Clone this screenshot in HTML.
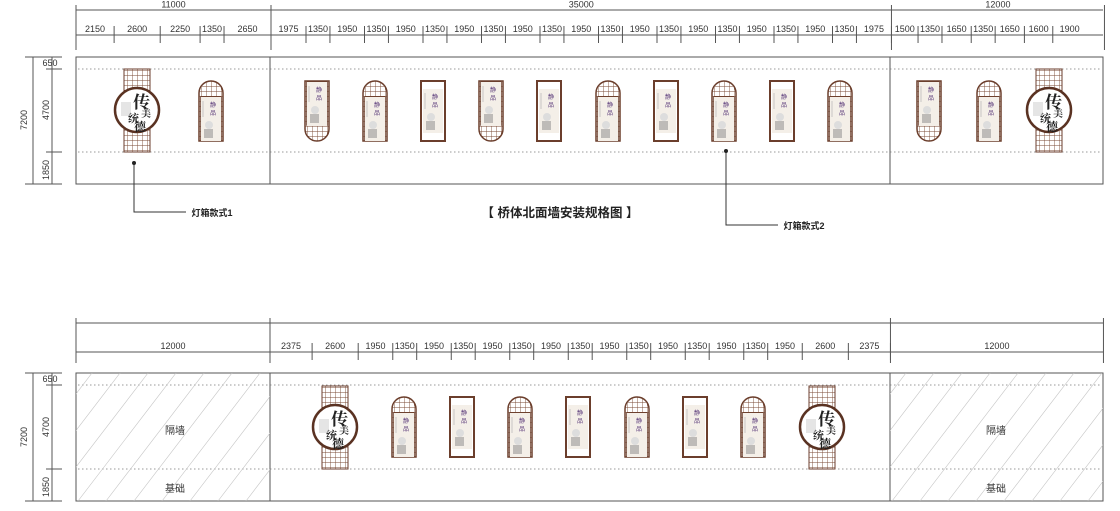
<!DOCTYPE html>
<html><head><meta charset="utf-8"><style>
html,body{margin:0;padding:0;background:#fff;}
svg{display:block;font-family:"Liberation Sans","Noto Sans CJK SC",sans-serif;}
</style></head><body>
<svg id="s" width="1120" height="511" viewBox="0 0 1120 511" xmlns="http://www.w3.org/2000/svg">
<defs>
<clipPath id="cl1"><rect x="76" y="373" width="194" height="128"/></clipPath>
<clipPath id="cl2"><rect x="890" y="373" width="213" height="128"/></clipPath>
<pattern id="lat" width="5" height="5" patternUnits="userSpaceOnUse"><rect width="5" height="5" fill="#fff"/><path d="M0 0H5M0 0V5" stroke="#7a4a35" stroke-width="0.9"/></pattern>
<g id="t1">
 <rect x="-13" y="-41" width="26" height="83" fill="url(#lat)" stroke="#6b3e2c" stroke-width="1"/>
 <circle r="22" fill="#fff" stroke="#5a3222" stroke-width="2.5"/>
 <text x="-4" y="-2" font-size="17" font-family="Noto Serif CJK SC,serif" font-weight="bold" fill="#222">传</text>
 <text x="-9" y="12" font-size="11" font-family="Noto Serif CJK SC,serif" font-weight="bold" fill="#222">统</text>
 <text x="4" y="7" font-size="10" font-family="Noto Serif CJK SC,serif" font-weight="bold" fill="#333">美</text>
 <text x="-3" y="21" font-size="12" font-family="Noto Serif CJK SC,serif" font-weight="bold" fill="#222">德</text>
 <rect x="-16" y="-8" width="10" height="14" fill="#ccc" opacity="0.5"/>
</g>
<g id="pic">
 <rect x="-10" y="-20" width="20" height="44" fill="#f4efe8"/>
 <text x="-1" y="-10" font-size="6" fill="#5a3a7a">静</text>
 <text x="-1" y="-2" font-size="6" fill="#5a3a7a">品</text>
 <circle cx="-2" cy="8" r="4" fill="#ddd"/>
 <rect x="-7" y="12" width="9" height="9" fill="#888" opacity="0.5"/>
 <path d="M-8 -16V0" stroke="#aaa" stroke-width="0.6"/>
</g>
<g id="rt"><rect x="-12" y="-30" width="24" height="60" fill="#fff" stroke="#6b3e2c" stroke-width="2"/><use href="#pic" y="-2"/></g>
<g id="at"><path d="M-12 30V-18A12 12 0 0 1 12 -18V30Z" fill="url(#lat)" stroke="#6b3e2c" stroke-width="1.5"/><rect x="-10" y="-14" width="20" height="43" fill="#fff" stroke="#6b3e2c" stroke-width="1.5"/><use href="#pic" y="6"/></g>
<g id="ab"><path d="M-12 -30V18A12 12 0 0 0 12 18V-30Z" fill="url(#lat)" stroke="#6b3e2c" stroke-width="1.5"/><rect x="-10" y="-29" width="20" height="43" fill="#fff" stroke="#6b3e2c" stroke-width="1.5"/><use href="#pic" y="-9"/></g>
</defs>

<g id="dims" stroke="#555" stroke-width="1" fill="none"></g>
<g id="txt" font-size="9" fill="#333" text-anchor="middle"></g>

<g stroke="#555" fill="none">
<rect x="76" y="57" width="1027" height="127"/>
<line x1="270" y1="57" x2="270" y2="184"/><line x1="890" y1="57" x2="890" y2="184"/>
<rect x="76" y="373" width="1027" height="128"/>
<line x1="270" y1="373" x2="270" y2="501"/><line x1="890" y1="373" x2="890" y2="501"/>
</g>
<g stroke="#777" stroke-dasharray="1.5 2.5" stroke-width="0.8">
<line x1="78" y1="69" x2="1101" y2="69"/><line x1="78" y1="152" x2="1101" y2="152"/>
<line x1="78" y1="385" x2="1101" y2="385"/><line x1="78" y1="469" x2="1101" y2="469"/>
</g>
<g id="hatch" stroke="#c4c4c4" stroke-width="0.6"></g>

<g stroke="#555" fill="none">
<line x1="33" y1="57" x2="33" y2="184"/><line x1="52" y1="57" x2="52" y2="184"/>
<line x1="25" y1="57" x2="62" y2="57"/><line x1="46" y1="69" x2="62" y2="69"/><line x1="46" y1="152" x2="62" y2="152"/><line x1="25" y1="184" x2="62" y2="184"/>
<line x1="33" y1="373" x2="33" y2="501"/><line x1="52" y1="373" x2="52" y2="501"/>
<line x1="25" y1="373" x2="62" y2="373"/><line x1="46" y1="385" x2="62" y2="385"/><line x1="46" y1="469" x2="62" y2="469"/><line x1="25" y1="501" x2="62" y2="501"/>
</g>
<g font-size="9" fill="#333" text-anchor="middle">
<text x="50" y="66">650</text>
<text transform="translate(27,120) rotate(-90)">7200</text>
<text transform="translate(49,110) rotate(-90)">4700</text>
<text transform="translate(49,170) rotate(-90)">1850</text>
<text x="50" y="382">650</text>
<text transform="translate(27,437) rotate(-90)">7200</text>
<text transform="translate(49,427) rotate(-90)">4700</text>
<text transform="translate(49,487) rotate(-90)">1850</text>
<text x="175" y="434" font-size="10">隔墙</text><text x="175" y="492" font-size="10">基础</text>
<text x="996" y="434" font-size="10">隔墙</text><text x="996" y="492" font-size="10">基础</text>
<text x="560" y="217" font-size="12.5" font-weight="bold" fill="#222">【 桥体北面墙安装规格图 】</text>
<text x="212" y="216" font-size="9" font-weight="bold" fill="#222">灯箱款式1</text>
<text x="804" y="229" font-size="9" font-weight="bold" fill="#222">灯箱款式2</text>
</g>
<g stroke="#333" fill="none"><path d="M134 163V212H186"/><path d="M726 151V225H778"/></g>
<circle cx="134" cy="163" r="2" fill="#222"/><circle cx="726" cy="151" r="2" fill="#222"/>

<use href="#t1" x="137" y="110"/>
<use href="#at" x="211" y="111"/>
<use href="#ab" x="317" y="111"/><use href="#at" x="375" y="111"/><use href="#rt" x="433" y="111"/>
<use href="#ab" x="491" y="111"/><use href="#rt" x="549" y="111"/><use href="#at" x="608" y="111"/>
<use href="#rt" x="666" y="111"/><use href="#at" x="724" y="111"/><use href="#rt" x="782" y="111"/><use href="#at" x="840" y="111"/>
<use href="#ab" x="929" y="111"/><use href="#at" x="989" y="111"/><use href="#t1" x="1049" y="110"/>
<use href="#t1" x="335" y="427"/>
<use href="#at" x="404" y="427"/><use href="#rt" x="462" y="427"/><use href="#at" x="520" y="427"/>
<use href="#rt" x="578" y="427"/><use href="#at" x="637" y="427"/><use href="#rt" x="695" y="427"/>
<use href="#at" x="753" y="427"/><use href="#t1" x="822" y="427"/>
</svg>
<script>
var NS="http://www.w3.org/2000/svg",d=document.getElementById('dims'),t=document.getElementById('txt'),h=document.getElementById('hatch');
function L(x1,y1,x2,y2,p){var l=document.createElementNS(NS,'line');l.setAttribute('x1',x1);l.setAttribute('y1',y1);l.setAttribute('x2',x2);l.setAttribute('y2',y2);(p||d).appendChild(l);}
function T(x,y,s){var e=document.createElementNS(NS,'text');e.setAttribute('x',x);e.setAttribute('y',y);e.textContent=s;t.appendChild(e);}
var k=17.7272/1000;
function W(v){return Array.isArray(v)?v[1]:v*k;}
function V(v){return Array.isArray(v)?v[0]:v;}
function big(y,ys,vals,lab){var x=76;L(76,y,1103,y);L(76,y-5,76,y+40);vals.forEach(function(v){var w=W(v);if(lab)T(x+w/2,ys,V(v));x+=w;L(x,y-5,x,y+40);});}
function small(y,ys,vals){var x=76;L(76,y,1103,y);vals.forEach(function(v,i){var w=W(v);T(x+w/2,ys,V(v));x+=w;if(i<vals.length-1)L(x,y-9,x,y+8);});}
big(10,7.5,[11000,35000,[12000,213]],true);
small(35,32,[2150,2600,2250,1350,2650,1975,1350,1950,1350,1950,1350,1950,1350,1950,1350,1950,1350,1950,1350,1950,1350,1950,1350,1950,1350,1975,1500,1350,1650,1350,1650,1600,1900]);
big(323,0,[[12000,194],35000,[12000,213]],false);
small(352,349,[[12000,194],2375,2600,1950,1350,1950,1350,1950,1350,1950,1350,1950,1350,1950,1350,1950,1350,1950,2600,2375,[12000,213]]);
[[76,270,'cl1'],[890,1103,'cl2']].forEach(function(r){var g=document.createElementNS(NS,'g');g.setAttribute('clip-path','url(#'+r[2]+')');h.appendChild(g);
 for(var x=r[0]-110;x<r[1]+10;x+=28){L(x,501,x+98,373,g);}});
</script>
</body></html>
